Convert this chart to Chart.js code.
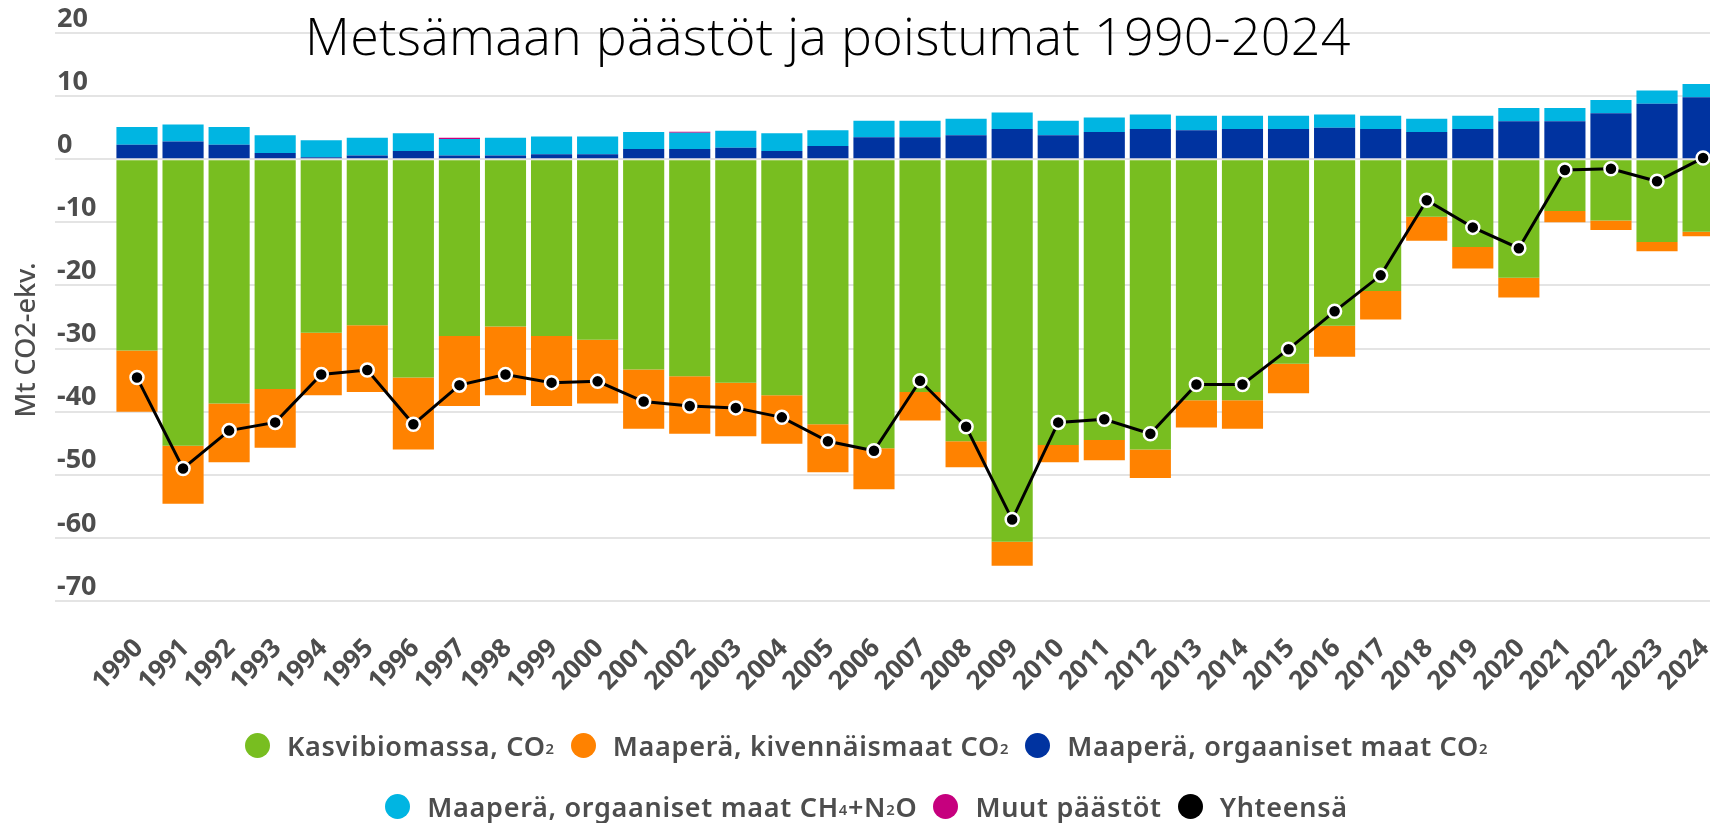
<!DOCTYPE html>
<html lang="fi">
<head>
<meta charset="utf-8">
<title>Metsämaan päästöt ja poistumat 1990-2024</title>
<script src="https://cdn.jsdelivr.net/npm/chart.js@4.4.1/dist/chart.umd.min.js"></script>
<style>
  html, body { margin: 0; padding: 0; background: #fff; overflow: hidden; }
  .wrap { position: relative; width: 1719px; height: 823px; }
  .chart-box { position: absolute; left: 0; top: 0; width: 1719px; height: 823px; }
  .chart-title {
    position: absolute; left: 305px; top: 9px; margin: 0;
    font-family: 'Open Sans', Lato, sans-serif; font-weight: 300; font-size: 52px;
    letter-spacing: 0.3px; line-height: 1; color: #000; white-space: nowrap; pointer-events: none;
  }
  .legend {
    position: absolute; left: 14px; right: 0; top: 715px;
    font-family: 'Noto Sans', sans-serif; font-weight: 600; font-size: 27px;
    letter-spacing: 0.7px; color: #4d4d4d;
  }
  .legend-row { display: flex; justify-content: center; align-items: center; height: 61px; }
  .legend-item { display: flex; align-items: center; margin: 0 8px; white-space: nowrap; }
  .dot { width: 25px; height: 25px; border-radius: 50%; margin-right: 17px; }
  .legend sub { font-size: 0.55em; vertical-align: baseline; position: relative; top: 0.15em; }
</style>
</head>
<body>
<div class="wrap">
  <div class="chart-box"><canvas id="chart"></canvas></div>
  <h1 class="chart-title">Metsämaan päästöt ja poistumat 1990-2024</h1>
  <div class="legend">
    <div class="legend-row">
      <span class="legend-item"><span class="dot" style="background:#78be20"></span>Kasvibiomassa, CO<sub>2</sub></span>
      <span class="legend-item"><span class="dot" style="background:#ff8200"></span>Maaperä, kivennäismaat CO<sub>2</sub></span>
      <span class="legend-item"><span class="dot" style="background:#0033a0"></span>Maaperä, orgaaniset maat CO<sub>2</sub></span>
    </div>
    <div class="legend-row">
      <span class="legend-item"><span class="dot" style="background:#00b5e2"></span>Maaperä, orgaaniset maat CH<sub>4</sub>+N<sub>2</sub>O</span>
      <span class="legend-item"><span class="dot" style="background:#c6007e"></span>Muut päästöt</span>
      <span class="legend-item"><span class="dot" style="background:#000"></span>Yhteensä</span>
    </div>
  </div>
</div>

<script>
// vuodet (x-akseli)
const years = [1990, 1991, 1992, 1993, 1994, 1995, 1996, 1997, 1998, 1999,
  2000, 2001, 2002, 2003, 2004, 2005, 2006, 2007, 2008, 2009,
  2010, 2011, 2012, 2013, 2014, 2015, 2016, 2017, 2018, 2019,
  2020, 2021, 2022, 2023, 2024];

// Mt CO2-ekv., luettu kuvasta
const kasvibiomassa = [-30.3, -45.4, -38.7, -36.4, -27.5, -26.3, -34.6, -28.0, -26.5, -28.0,
  -28.6, -33.3, -34.4, -35.4, -37.4, -42.0, -45.8, -36.9, -44.7, -60.6,
  -45.3, -44.5, -46.0, -38.2, -38.2, -32.4, -26.4, -20.9, -9.1, -13.9,
  -18.8, -8.2, -9.7, -13.1, -11.5];
const kivennaismaat = [-9.7, -9.2, -9.3, -9.3, -9.9, -10.6, -11.4, -11.1, -10.9, -11.1,
  -10.1, -9.4, -9.1, -8.5, -7.7, -7.6, -6.5, -4.5, -4.1, -3.8,
  -2.7, -3.2, -4.5, -4.3, -4.5, -4.7, -4.9, -4.5, -3.8, -3.4,
  -3.1, -1.8, -1.5, -1.5, -0.7];
const orgaanisetCO2 = [2.3, 2.8, 2.3, 1.0, 0.3, 0.6, 1.3, 0.6, 0.6, 0.8,
  0.8, 1.6, 1.6, 1.8, 1.3, 2.1, 3.5, 3.5, 3.8, 4.8,
  3.8, 4.3, 4.8, 4.6, 4.8, 4.8, 5.0, 4.8, 4.3, 4.8,
  6.0, 6.0, 7.3, 8.8, 9.8];
const orgaanisetCH4N2O = [2.8, 2.7, 2.8, 2.8, 2.7, 2.8, 2.8, 2.6, 2.8, 2.8,
  2.8, 2.7, 2.6, 2.7, 2.8, 2.5, 2.6, 2.6, 2.6, 2.6,
  2.3, 2.3, 2.3, 2.3, 2.1, 2.1, 2.1, 2.1, 2.1, 2.1,
  2.1, 2.1, 2.1, 2.1, 2.1];
const muutPaastot = [0, 0, 0, 0, 0, 0, 0, 0.2, 0, 0,
  0, 0, 0.15, 0, 0, 0, 0, 0, 0, 0,
  0, 0, 0, 0, 0, 0, 0, 0, 0, 0,
  0, 0, 0, 0, 0];
const yhteensa = [-34.6, -49.0, -43.0, -41.7, -34.1, -33.4, -42.0, -35.8, -34.1, -35.4,
  -35.2, -38.4, -39.1, -39.4, -40.9, -44.7, -46.2, -35.1, -42.4, -57.1,
  -41.7, -41.2, -43.5, -35.7, -35.7, -30.1, -24.1, -18.4, -6.5, -10.8,
  -14.1, -1.7, -1.5, -3.5, 0.2];

const yTicks = [20, 10, 0, -10, -20, -30, -40, -50, -60, -70];

const fontFamily = "'Noto Sans', sans-serif";
const textColor = '#4d4d4d';

function bar(label, data, color) {
  return { type: 'bar', label: label, data: data, backgroundColor: color, borderWidth: 0, order: 1 };
}

// y-akselin otsikko hieman alemmas, kuten alkuperäisessä
const yTitleShift = {
  id: 'yTitleShift',
  afterLayout(chart) {
    chart.scales.y.bottom += 46;
  }
};

new Chart(document.getElementById('chart'), {
  type: 'bar',
  data: {
    labels: years,
    datasets: [
      bar('Kasvibiomassa, CO₂', kasvibiomassa, '#78be20'),
      bar('Maaperä, kivennäismaat CO₂', kivennaismaat, '#ff8200'),
      bar('Maaperä, orgaaniset maat CO₂', orgaanisetCO2, '#0033a0'),
      bar('Maaperä, orgaaniset maat CH₄+N₂O', orgaanisetCH4N2O, '#00b5e2'),
      bar('Muut päästöt', muutPaastot, '#c6007e'),
      {
        type: 'line',
        label: 'Yhteensä',
        data: yhteensa,
        order: 0,
        borderColor: '#000',
        borderWidth: 3,
        tension: 0,
        pointRadius: 6.5,
        pointBorderWidth: 2.5,
        pointBackgroundColor: '#000',
        pointBorderColor: '#fff'
      }
    ]
  },
  plugins: [yTitleShift],
  options: {
    responsive: true,
    maintainAspectRatio: false,
    animation: false,
    layout: { padding: { top: 33, left: 0, right: 0, bottom: 0 } },
    datasets: {
      bar: { categoryPercentage: 1, barPercentage: 0.893 }
    },
    plugins: {
      legend: { display: false },
      tooltip: { enabled: false }
    },
    scales: {
      x: {
        type: 'linear',
        stacked: true,
        offset: false,
        min: 1988.22,
        max: 2024.15,
        afterBuildTicks: s => { s.ticks = years.map(v => ({ value: v })); },
        afterFit: s => { s.height = 222; s.paddingLeft = 0; s.paddingRight = 0; },
        border: { display: false },
        grid: { display: false },
        ticks: {
          autoSkip: false,
          minRotation: 45,
          maxRotation: 45,
          padding: 24,
          labelOffset: 2,
          color: textColor,
          font: { family: fontFamily, weight: 'bold', size: 26 },
          callback: v => String(v)
        }
      },
      y: {
        stacked: true,
        min: yTicks[yTicks.length - 1],
        max: yTicks[0],
        afterBuildTicks: s => { s.ticks = yTicks.map(v => ({ value: v })); },
        afterFit: s => { s.width = 55; s.paddingTop = 0; s.paddingBottom = 0; },
        border: { display: false },
        grid: { color: '#e4e4e4', lineWidth: 2, drawTicks: false },
        ticks: {
          mirror: true,
          padding: 2,
          labelOffset: -14,
          color: textColor,
          font: { family: fontFamily, weight: 'bold', size: 27 }
        },
        title: {
          display: true,
          text: 'Mt CO2-ekv.',
          color: textColor,
          font: { family: fontFamily, weight: '500', size: 27 },
          padding: { top: 11, bottom: 0 }
        }
      }
    }
  }
});
</script>
</body>
</html>
